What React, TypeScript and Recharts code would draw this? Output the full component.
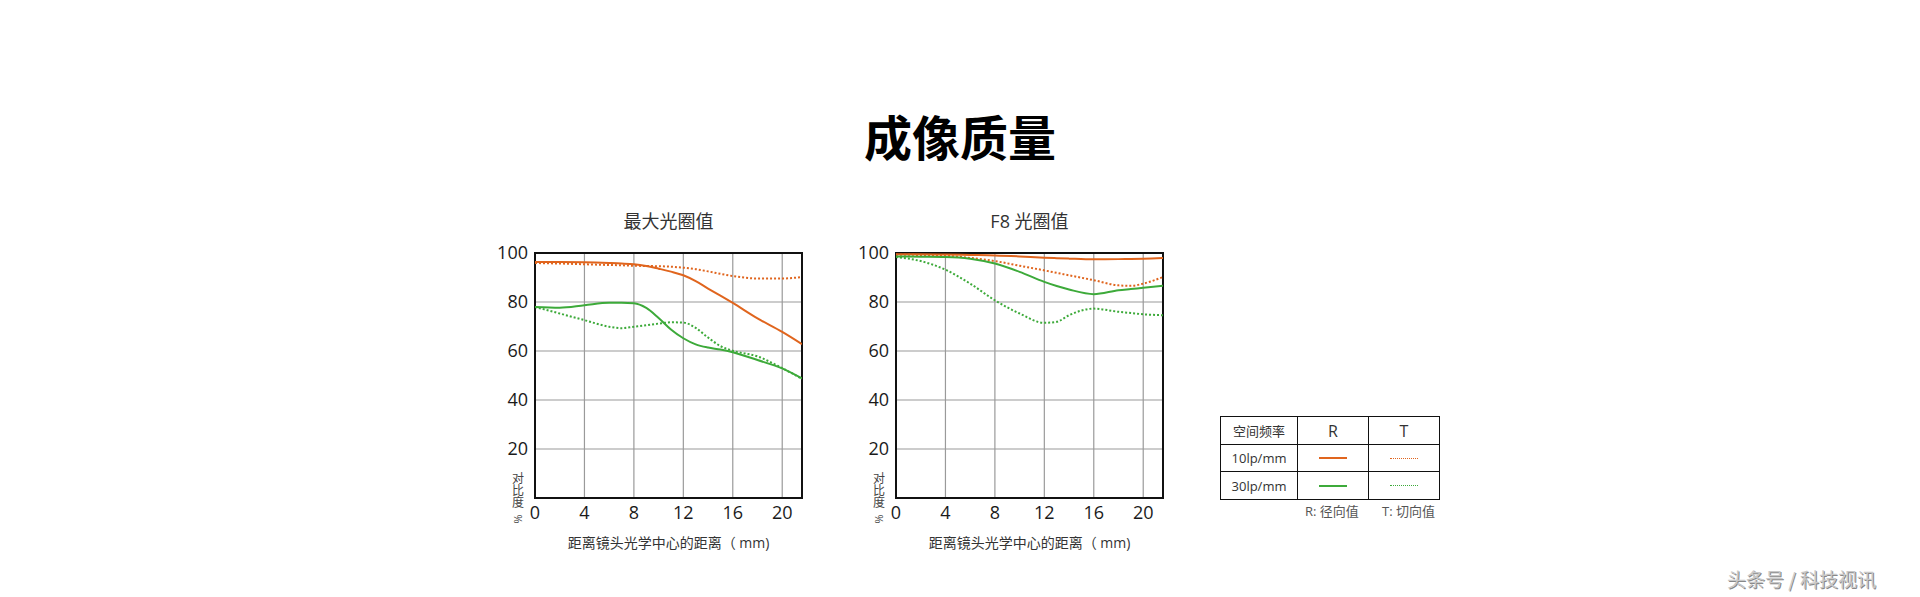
import React from 'react';
import { LineChart, Line, XAxis, YAxis, CartesianGrid, ReferenceArea } from 'recharts';

const ORANGE = '#e0651e';
const GREEN = '#3daa3a';
const FONT = "'Open Sans', 'Noto Sans CJK SC', sans-serif";

const xTicks = [0, 4, 8, 12, 16, 20];
const yTicks = [20, 40, 60, 80, 100];

// 最大光圈值
const wideX = [0, 2, 4, 6, 7, 8, 9, 10, 11, 12, 13, 14, 15, 16, 18, 20, 21.6];
const wideR10 = [96.3, 96.3, 96.2, 95.9, 95.7, 95.4, 94.7, 93.6, 92.4, 90.9, 88.5, 85.5, 82.6, 79.6, 73.3, 67.8, 62.8];
const wideT10 = [95.9, 95.7, 95.4, 95.1, 95.0, 94.8, 94.7, 94.6, 94.4, 94.0, 93.4, 92.5, 91.5, 90.6, 89.6, 89.6, 90.2];
const wideR30 = [78.0, 77.7, 78.7, 79.7, 79.7, 79.5, 77.6, 73.5, 68.8, 65.2, 62.7, 61.4, 60.6, 59.5, 56.3, 52.9, 48.8];
const wideT30 = [78.0, 75.3, 72.6, 69.9, 69.3, 69.9, 70.5, 71.2, 71.7, 71.6, 69.4, 65.5, 62.0, 60.1, 57.8, 53.0, 48.6];

// F8 光圈值
const f8X = [0, 2, 4, 6, 8, 10, 12, 13, 14, 16, 18, 19, 20, 21.6];
const f8R10 = [99.5, 99.5, 99.4, 99.2, 99.0, 98.6, 98.1, 97.9, 97.7, 97.4, 97.5, 97.6, 97.7, 98.0];
const f8T10 = [99.3, 99.2, 98.9, 98.0, 96.7, 94.8, 92.9, 91.9, 90.9, 88.9, 86.8, 86.6, 87.5, 90.2];
const f8R30 = [98.6, 98.5, 98.4, 97.7, 95.7, 92.3, 88.2, 86.5, 85.1, 83.2, 84.8, 85.3, 85.8, 86.6];
const f8T30 = [98.4, 96.7, 93.2, 87.5, 80.7, 75.3, 71.5, 71.9, 74.6, 77.3, 76.0, 75.5, 75.0, 74.6];

const build = (xs: number[], r10: number[], t10: number[], r30: number[], t30: number[]) =>
  xs.map((x, i) => ({ x, r10: r10[i], t10: t10[i], r30: r30[i], t30: t30[i] }));

const wideData = build(wideX, wideR10, wideT10, wideR30, wideT30);
const f8Data = build(f8X, f8R10, f8T10, f8R30, f8T30);

const tickStyle = { fontSize: 18, fill: '#1a1a1a', fontFamily: FONT };

const MtfChart = ({ data, left, title }: { data: any[]; left: number; title: string }) => (
  <>
    <div
      style={{
        position: 'absolute', left: left + 55, width: 267, top: 207, textAlign: 'center',
        fontSize: 18, color: '#333', fontFamily: FONT,
      }}
    >
      {title}
    </div>
    <div style={{ position: 'absolute', left, top: 240 }}>
      <LineChart width={340} height={320} data={data} margin={{ top: 13, right: 18, bottom: 32, left: 15 }}>
        <CartesianGrid stroke="#9a9a9a" strokeWidth={1.2} />
        <XAxis
          dataKey="x"
          type="number"
          domain={[0, 21.6]}
          ticks={xTicks}
          allowDataOverflow
          axisLine={false}
          tickLine={false}
          tickSize={5}
          tickMargin={3}
          height={30}
          tick={tickStyle}
        />
        <YAxis
          type="number"
          domain={[0, 100]}
          ticks={yTicks}
          axisLine={false}
          tickLine={false}
          tickSize={4}
          tickMargin={3}
          width={40}
          tick={tickStyle}
        />
        <ReferenceArea x1={0} x2={21.6} y1={0} y2={100} fill="none" stroke="#111" strokeWidth={2} />
        <Line dataKey="t10" type="monotone" stroke={ORANGE} strokeWidth={2} strokeDasharray="2 2" dot={false} isAnimationActive={false} />
        <Line dataKey="t30" type="monotone" stroke={GREEN} strokeWidth={2} strokeDasharray="2 2" dot={false} isAnimationActive={false} />
        <Line dataKey="r10" type="monotone" stroke={ORANGE} strokeWidth={2} dot={false} isAnimationActive={false} />
        <Line dataKey="r30" type="monotone" stroke={GREEN} strokeWidth={2} dot={false} isAnimationActive={false} />
      </LineChart>
    </div>
    <div
      style={{
        position: 'absolute', left: left + 32, top: 472, width: 12, wordBreak: 'break-all',
        fontSize: 12, lineHeight: '12px', color: '#444', fontFamily: "'Noto Sans CJK SC', sans-serif",
      }}
    >
      对比度
    </div>
    <div
      style={{
        position: 'absolute', left: left + 32, top: 513, width: 12, height: 12, textAlign: 'center',
        fontSize: 11, lineHeight: '12px', color: '#444', transform: 'rotate(90deg)', fontFamily: FONT,
      }}
    >
      %
    </div>
    <div
      style={{
        position: 'absolute', left: left + 55, width: 267, top: 532, textAlign: 'center',
        fontSize: 14, color: '#333', fontFamily: FONT,
      }}
    >
      距离镜头光学中心的距离（ mm)
    </div>
  </>
);

const cell: React.CSSProperties = {
  border: '1px solid #111', textAlign: 'center', padding: 0, fontSize: 13, color: '#333',
};

const LegendLine = ({ color, dotted }: { color: string; dotted?: boolean }) => (
  <div
    style={{
      width: 28, margin: '0 auto', borderTop: `${dotted ? 1 : 2}px ${dotted ? 'dotted' : 'solid'} ${color}`,
    }}
  />
);

export default function App() {
  return (
    <div
      style={{
        position: 'absolute', left: 0, top: 0, width: 1920, height: 597, background: '#fff',
        fontFamily: FONT, overflow: 'hidden',
      }}
    >
      <div
        style={{
          position: 'absolute', left: 0, width: 1920, top: 100, textAlign: 'center',
          fontSize: 48, fontWeight: 'bold', color: '#000', fontFamily: "'Noto Sans CJK SC', sans-serif",
        }}
      >
        成像质量
      </div>
      <MtfChart data={wideData} left={480} title="最大光圈值" />
      <MtfChart data={f8Data} left={841} title="F8 光圈值" />
      <table
        style={{
          position: 'absolute', left: 1220, top: 416, borderCollapse: 'collapse', fontFamily: FONT,
        }}
      >
        <tbody>
          <tr style={{ height: 28 }}>
            <td style={{ ...cell, width: 76 }}>空间频率</td>
            <td style={{ ...cell, width: 70, fontSize: 16 }}>R</td>
            <td style={{ ...cell, width: 70, fontSize: 16 }}>T</td>
          </tr>
          <tr style={{ height: 27 }}>
            <td style={cell}>10lp/mm</td>
            <td style={cell}><LegendLine color={ORANGE} /></td>
            <td style={cell}><LegendLine color={ORANGE} dotted /></td>
          </tr>
          <tr style={{ height: 28 }}>
            <td style={cell}>30lp/mm</td>
            <td style={cell}><LegendLine color={GREEN} /></td>
            <td style={cell}><LegendLine color={GREEN} dotted /></td>
          </tr>
        </tbody>
      </table>
      <div style={{ position: 'absolute', left: 1305, top: 501, fontSize: 13, color: '#555' }}>R: 径向值</div>
      <div style={{ position: 'absolute', left: 1382, top: 501, fontSize: 13, color: '#555' }}>T: 切向值</div>
      <div
        style={{
          position: 'absolute', left: 1727, top: 565, fontSize: 19, color: '#c8c8c8',
          textShadow: '1px 1px 0 #888', fontFamily: "'Noto Sans CJK SC', sans-serif",
        }}
      >
        头条号 / 科技视讯
      </div>
    </div>
  );
}
